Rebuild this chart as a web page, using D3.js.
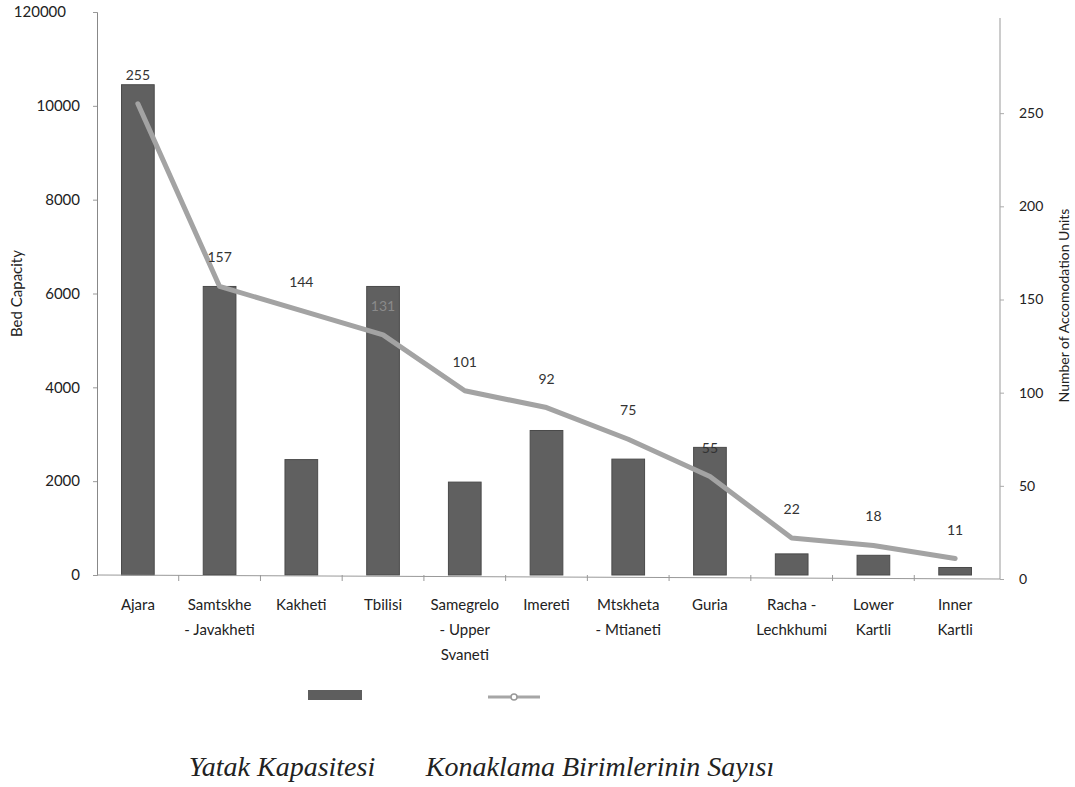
<!DOCTYPE html>
<html>
<head>
<meta charset="utf-8">
<script src="https://cdn.jsdelivr.net/npm/d3@7"></script>
<style>
  html, body { margin: 0; padding: 0; background: #fff; }
  svg { display: block; }
  .tick text { font-family: Lato, "DejaVu Sans", sans-serif; fill: #222; }
</style>
</head>
<body>
<svg id="chart" width="1075" height="787"></svg>
<script>
// Regions (x categories), multi-line labels split with "|"
const regions = ["Ajara", "Samtskhe|- Javakheti", "Kakheti", "Tbilisi", "Samegrelo|- Upper|Svaneti",
  "Imereti", "Mtskheta|- Mtianeti", "Guria", "Racha -|Lechkhumi", "Lower|Kartli", "Inner|Kartli"];
// Bed capacity per region (left axis)
const bedCapacity = [10450, 6150, 2460, 6150, 1980, 3080, 2470, 2720, 450, 420, 160];
// Number of accommodation units per region (right axis)
const accUnits = [255, 157, 144, 131, 101, 92, 75, 55, 22, 18, 11];
// Axis ticks
const leftTicks = [0, 2000, 4000, 6000, 8000, 10000, 12000];
const leftTickLabels = ["0", "2000", "4000", "6000", "8000", "10000", "120000"];
const rightTicks = [0, 50, 100, 150, 200, 250];
// Legend texts
const legendLabels = ["Yatak Kapasitesi", "Konaklama Birimlerinin Sayısı"];

const svg = d3.select("#chart");
const m = { left: 97, right: 1000, top: 12, bottom: 575 };
const sans = "Lato, 'DejaVu Sans', sans-serif";

const x = d3.scaleBand().domain(regions).range([m.left, m.right - 4]).paddingInner(0.6).paddingOuter(0.3);
const yL = d3.scaleLinear().domain([0, 12000]).range([m.bottom, m.top]);
const yR = d3.scaleLinear().domain([0, 300]).range([m.bottom + 4, m.top + 8]);
const cx = i => x(regions[i]) + x.bandwidth() / 2;

// Bars
svg.append("g").selectAll("rect").data(regions).join("rect")
  .attr("x", d => x(d))
  .attr("width", x.bandwidth())
  .attr("y", (d, i) => yL(bedCapacity[i]))
  .attr("height", (d, i) => yL(0) - yL(bedCapacity[i]))
  .attr("fill", "#606060")
  .attr("stroke", "#4a4a4a")
  .attr("stroke-width", 1);

// Left axis
const axL = svg.append("g").attr("transform", `translate(${m.left},0)`)
  .call(d3.axisLeft(yL).tickValues(leftTicks).tickSize(4).tickPadding(13)
    .tickFormat((d, i) => leftTickLabels[i]));
axL.select(".domain").attr("stroke", "#888");
axL.selectAll(".tick line").attr("stroke", "#999");
axL.selectAll(".tick text").attr("font-size", 15)
  .attr("dx", d => d === 12000 ? -14 : 0);

// Right axis
const axR = svg.append("g").attr("transform", `translate(${m.right},0)`)
  .call(d3.axisRight(yR).tickValues(rightTicks).tickSize(4).tickPadding(15));
axR.select(".domain").attr("stroke", "#999").attr("d", `M0,${m.top + 6}V${yR(0)}`);
axR.selectAll(".tick line").attr("stroke", "#aaa");
axR.selectAll(".tick text").attr("font-size", 14).attr("fill", "#333");

// X axis baseline with ticks between bands
const xg = svg.append("g");
xg.append("line").attr("x1", m.left).attr("x2", m.right).attr("y1", yL(0)).attr("y2", yL(0) + 4)
  .attr("stroke", "#999");
const step = x.step();
xg.selectAll(".xt").data(regions.slice(1)).join("line")
  .attr("x1", d => x(d) - step * 0.3).attr("x2", d => x(d) - step * 0.3)
  .attr("y1", yL(0)).attr("y2", yL(0) + 6).attr("stroke", "#999");

// Category labels
const labels = xg.selectAll(".xl").data(regions).join("text")
  .attr("text-anchor", "middle")
  .attr("font-family", sans)
  .attr("font-size", 15)
  .attr("fill", "#222")
  .attr("transform", d => `translate(${x(d) + x.bandwidth() / 2},${yL(0) + 35})`);
labels.selectAll("tspan").data(d => d.split("|")).join("tspan")
  .attr("x", 0).attr("dy", (t, i) => i === 0 ? 0 : 25).text(t => t);

// Accommodation units line
const line = d3.line()
  .x((d, i) => cx(i))
  .y(d => yR(d));
svg.append("path").datum(accUnits)
  .attr("d", line).attr("fill", "none")
  .attr("stroke", "#a3a3a3").attr("stroke-width", 5)
  .attr("stroke-linecap", "round").attr("stroke-linejoin", "round");

// Value labels above line points
svg.append("g").selectAll("text").data(accUnits).join("text")
  .attr("x", (d, i) => cx(i))
  .attr("y", d => yR(d) - 24)
  .attr("text-anchor", "middle")
  .attr("font-family", sans)
  .attr("font-size", 14)
  .attr("fill", (d, i) => i === 3 ? "#8a8a8a" : "#333")
  .text(d => d);

// Axis titles
svg.append("text")
  .attr("transform", `translate(22,${(m.top + m.bottom) / 2}) rotate(-90)`)
  .attr("text-anchor", "middle")
  .attr("font-family", sans)
  .attr("font-size", 15).attr("fill", "#222")
  .text("Bed Capacity");
svg.append("text")
  .attr("transform", `translate(1069,${(m.top + m.bottom) / 2 + 12}) rotate(-90)`)
  .attr("text-anchor", "middle")
  .attr("font-family", sans)
  .attr("font-size", 14).attr("fill", "#222")
  .text("Number of Accomodation Units");

// Legend swatches
const lg = svg.append("g");
lg.append("rect").attr("x", 308).attr("y", 690).attr("width", 54).attr("height", 10)
  .attr("fill", "#5e5e5e");
lg.append("line").attr("x1", 488).attr("x2", 540).attr("y1", 697).attr("y2", 697)
  .attr("stroke", "#a6a6a6").attr("stroke-width", 3);
lg.append("circle").attr("cx", 514).attr("cy", 697).attr("r", 3)
  .attr("fill", "#fff").attr("stroke", "#999").attr("stroke-width", 1.5);

// Legend texts
lg.selectAll("text.lt").data(legendLabels).join("text")
  .attr("x", (d, i) => i === 0 ? 282 : 600)
  .attr("y", 776)
  .attr("text-anchor", "middle")
  .attr("font-family", "'Liberation Serif', 'DejaVu Serif', serif")
  .attr("font-style", "italic")
  .attr("font-size", 28)
  .attr("fill", "#222")
  .text(d => d);
</script>
</body>
</html>
